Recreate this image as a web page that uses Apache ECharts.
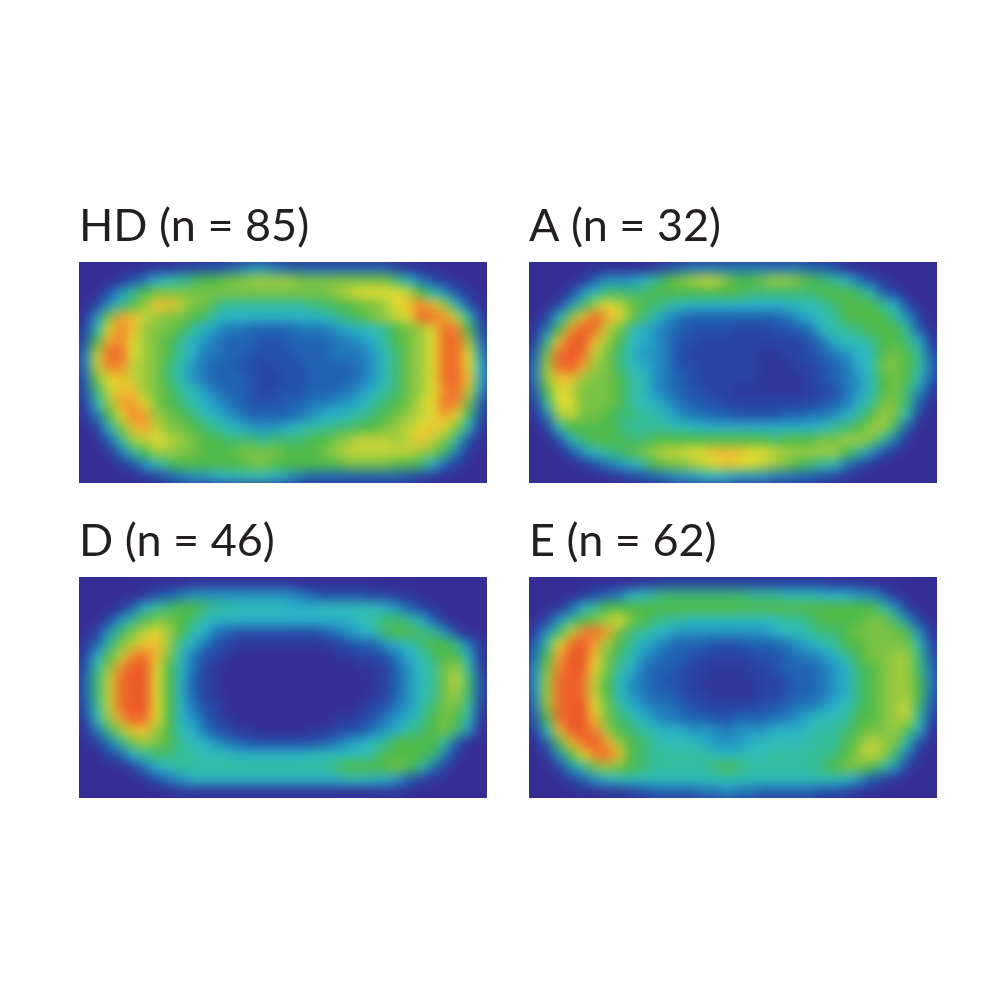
<!DOCTYPE html>
<html><head><meta charset="utf-8">
<style>
html,body{margin:0;padding:0;background:#fff}
#clip{position:absolute;left:0;top:0;width:1000px;height:1000px;
clip-path:path('M79 262H487V483H79Z M529 262H937V483H529Z M79 577H487V798H79Z M529 577H937V798H529Z')}
#heat{position:absolute;left:0;top:0;width:1000px;height:1000px;filter:blur(6px)}
#labels{position:absolute;left:0;top:0;width:1000px;height:1000px}
</style>
<script src="https://cdn.jsdelivr.net/npm/echarts@6/dist/echarts.min.js"></script>
</head><body>
<div id="clip"><div id="heat"></div></div>
<div id="labels"></div>
<script>
const panelTitles = ['HD (n = 85)','A (n = 32)','D (n = 46)','E (n = 62)'];
const palette = ['#352e95','#30379b','#2a44a3','#2451ac','#2163b3','#2179bb','#2495c2','#2bb2c8','#2fbbb8','#35bb9c','#3fba72','#4fba48','#78c344','#9ccb3f','#c2d338','#e2dc2f','#f0c030','#f3a030','#f2852d','#f06c2a','#ec5a28'];
const hdRows = [
[0,0,0,0,0,0,1,1,2,2,3,3,4,5,6,6,5,4,4,4,4,4,4,4,4,4,2,1,0,0,0,0,0,0],
[0,0,0,1,3,5,7,8,9,10,11,11,12,12,13,13,13,13,12,12,12,12,12,12,12,12,10,7,5,3,1,0,0,0],
[0,0,3,6,9,11,12,12,12,12,12,12,12,12,12,12,12,12,12,12,12,13,14,15,15,15,15,14,11,8,6,3,1,0],
[0,2,6,9,11,13,16,16,14,12,12,10,9,9,9,9,9,9,9,10,10,11,11,12,12,13,15,16,18,16,13,7,3,0],
[1,6,12,17,16,14,13,12,12,11,10,8,7,7,7,7,7,7,7,7,8,9,10,11,12,13,14,15,19,19,17,14,8,2],
[2,8,15,18,16,13,12,12,11,9,7,6,5,5,4,4,4,4,5,5,5,6,7,7,8,9,11,12,13,15,19,18,11,3],
[3,11,17,18,15,13,12,11,9,7,6,5,4,4,4,3,3,4,4,4,4,5,5,6,7,9,11,12,13,15,19,19,13,5],
[5,14,19,19,15,13,12,11,9,7,5,5,4,4,3,3,3,3,4,4,4,5,5,5,6,8,10,12,13,15,19,19,15,6],
[5,14,18,18,14,13,12,10,8,6,5,4,4,3,3,2,3,3,3,4,4,4,4,5,6,8,10,12,13,15,19,19,15,7],
[4,12,15,16,14,13,12,10,8,6,5,4,4,4,3,2,2,3,3,4,4,4,4,5,6,8,10,12,13,15,19,19,16,7],
[3,10,14,16,16,13,12,11,9,8,6,5,4,4,3,2,3,3,3,4,4,4,5,6,7,9,10,12,13,15,18,19,14,6],
[2,8,13,17,17,15,12,11,10,8,7,6,5,4,3,3,3,4,4,5,5,6,6,7,9,10,11,12,14,15,19,18,12,4],
[1,5,11,15,18,17,13,12,11,10,8,7,6,5,4,4,4,4,5,6,7,7,8,9,10,11,12,13,14,15,17,15,10,3],
[0,2,7,12,16,17,14,12,12,11,10,9,8,7,6,6,6,7,8,9,9,10,10,11,11,12,13,14,15,16,15,12,7,1],
[0,0,4,9,13,14,15,14,13,12,11,11,10,10,10,9,10,10,10,11,11,12,13,14,14,14,13,14,16,14,12,9,3,0],
[0,0,1,5,9,11,13,13,12,12,11,11,11,12,12,12,12,11,11,11,12,13,14,14,14,14,14,14,13,12,10,5,1,0],
[0,0,0,1,3,6,8,10,11,11,11,11,11,11,12,12,11,11,11,11,11,11,12,12,12,12,11,11,10,7,4,2,0,0],
[0,0,0,0,0,1,2,4,5,6,6,7,7,8,8,8,7,6,5,4,4,4,4,4,4,4,4,3,2,1,0,0,0,0]];
const aRows = [
[0,0,0,0,0,0,0,0,0,0,1,3,4,5,5,5,5,5,5,5,5,5,5,4,4,3,1,0,0,0,0,0,0,0],
[0,0,0,0,1,4,6,6,6,7,9,11,12,13,14,14,12,11,11,12,13,13,12,11,10,9,7,5,3,1,0,0,0,0],
[0,0,0,2,6,8,10,10,10,10,11,11,11,11,11,11,11,11,10,10,10,10,10,10,11,11,11,10,8,4,2,0,0,0],
[0,0,2,6,10,13,15,14,12,11,10,9,8,7,7,7,7,7,7,7,7,7,8,8,9,10,11,11,11,9,7,3,0,0],
[0,2,7,12,16,19,17,15,12,10,8,6,5,4,4,4,4,4,4,4,4,5,6,7,8,9,11,11,11,11,9,6,2,0],
[1,5,11,17,20,19,14,12,9,7,6,5,4,3,3,3,3,2,2,2,3,3,4,5,8,9,9,10,11,11,11,9,4,0],
[2,9,16,20,20,16,13,11,8,7,6,5,3,3,2,2,2,2,2,2,2,2,2,3,5,7,8,8,9,11,11,10,7,2],
[4,12,19,20,19,14,12,10,8,6,6,5,3,2,2,2,2,2,2,1,1,2,2,3,4,5,6,7,8,11,12,11,9,4],
[5,13,19,20,17,13,12,10,8,7,6,5,3,3,2,2,2,2,2,1,1,1,2,2,3,4,5,7,8,12,12,11,9,5],
[5,13,16,16,13,12,12,11,9,8,6,5,4,3,2,2,2,2,2,1,1,1,1,2,3,4,5,6,8,11,12,11,8,4],
[4,11,15,14,12,12,12,11,9,8,6,5,4,3,3,2,2,1,1,1,1,1,1,2,2,3,5,6,8,11,12,10,6,2],
[2,9,15,15,12,12,12,11,9,8,7,6,5,4,3,3,2,2,2,2,2,2,2,2,3,4,5,7,9,12,12,10,4,0],
[1,5,13,14,12,12,11,10,10,9,9,7,6,5,5,4,4,3,3,3,3,4,4,5,5,6,7,9,11,13,12,8,2,0],
[0,2,8,11,11,11,11,10,9,9,9,9,8,8,7,7,7,7,7,7,7,7,7,7,8,9,10,11,13,13,10,4,0,0],
[0,0,3,7,10,11,11,11,10,10,11,11,11,11,11,11,11,11,11,11,10,11,11,11,12,12,13,13,12,9,5,1,0,0],
[0,0,0,3,6,8,9,10,11,12,13,14,14,15,15,16,16,16,15,15,14,13,13,13,13,13,11,9,6,3,1,0,0,0],
[0,0,0,0,1,3,5,6,7,9,11,12,12,13,14,15,16,15,15,14,13,12,11,10,9,8,5,3,1,0,0,0,0,0],
[0,0,0,0,0,0,0,1,2,3,4,5,6,6,7,7,7,6,6,6,5,5,4,4,3,2,1,0,0,0,0,0,0,0]];
const dRows = [
[0,0,0,0,0,0,0,0,0,1,1,1,1,1,1,1,1,1,0,0,0,0,0,0,0,0,0,0,0,0,0,0,0,0],
[0,0,0,0,0,1,3,4,5,6,6,6,6,6,6,6,6,6,5,4,3,3,3,3,2,2,1,1,0,0,0,0,0,0],
[0,0,0,1,4,7,9,10,11,11,10,9,9,8,8,8,8,7,7,7,8,8,8,8,8,7,6,4,2,1,0,0,0,0],
[0,0,2,6,9,11,12,12,11,10,8,7,7,7,7,7,7,7,7,7,7,7,7,8,9,10,10,9,7,4,1,0,0,0],
[0,2,6,10,12,14,15,13,11,8,7,5,4,3,3,3,3,3,3,3,4,5,6,7,8,10,11,11,10,9,6,2,0,0],
[1,4,9,12,14,16,16,13,9,7,5,3,2,1,1,1,1,1,1,1,1,2,3,4,4,6,7,8,10,11,11,9,5,1],
[2,7,11,14,18,19,16,12,8,5,3,2,1,0,0,0,0,0,0,0,0,1,1,2,2,3,5,7,8,10,11,11,7,1],
[3,9,13,18,20,20,15,11,7,5,2,1,0,0,0,0,0,0,0,0,0,0,0,1,1,2,4,6,8,9,12,13,9,2],
[4,10,14,19,20,20,15,11,7,4,2,1,0,0,0,0,0,0,0,0,0,0,0,0,1,2,4,6,8,9,12,14,10,3],
[4,10,14,19,20,20,15,11,7,4,2,1,0,0,0,0,0,0,0,0,0,0,0,0,1,2,4,6,8,9,12,13,10,3],
[3,9,14,19,20,20,15,11,7,5,3,2,0,0,0,0,0,0,0,0,0,0,0,1,2,3,5,6,8,10,12,12,9,2],
[2,8,13,17,20,19,15,11,7,6,4,2,1,0,0,0,0,0,0,0,0,1,1,2,3,5,6,7,9,11,12,11,8,1],
[1,5,10,13,16,16,13,11,8,7,5,3,2,1,1,0,0,0,0,1,1,2,3,3,5,6,7,9,10,11,12,10,6,0],
[0,2,5,9,12,13,12,11,9,8,7,6,5,4,3,3,3,3,3,3,4,5,6,7,8,9,11,11,11,11,9,4,0,0],
[0,0,2,4,7,9,10,10,9,9,8,8,8,7,7,7,7,7,7,8,8,8,8,8,9,11,11,11,11,10,5,1,0,0],
[0,0,0,0,2,5,7,8,9,9,9,9,9,9,9,9,9,9,9,9,9,10,11,11,11,11,12,11,9,5,2,0,0,0],
[0,0,0,0,0,1,3,5,6,7,7,7,7,7,7,7,7,7,7,7,7,7,8,8,7,7,6,4,2,1,0,0,0,0],
[0,0,0,0,0,0,0,0,1,1,1,1,1,1,1,1,1,1,1,1,1,1,1,1,1,1,1,0,0,0,0,0,0,0]];
const eRows = [
[0,0,0,0,0,0,0,0,0,1,1,2,2,2,2,2,2,2,2,2,2,2,2,2,2,1,1,1,0,0,0,0,0,0],
[0,0,0,0,1,3,4,5,7,8,9,10,10,10,10,10,10,10,9,9,9,8,8,8,7,7,7,6,6,4,1,0,0,0],
[0,0,1,4,7,9,11,11,11,11,11,11,11,11,11,11,11,11,11,11,11,11,11,11,11,11,11,11,11,9,6,2,0,0],
[0,2,6,9,11,12,13,15,12,11,10,9,9,8,8,8,8,8,8,8,8,9,9,10,11,11,11,11,12,12,10,6,2,0],
[2,6,10,14,18,19,17,12,10,9,8,7,6,6,6,6,6,6,6,6,7,8,8,9,10,10,11,12,12,12,12,11,6,1],
[4,9,15,19,20,17,13,11,9,7,6,5,4,4,4,3,3,3,4,4,4,5,6,7,8,9,11,11,12,12,12,12,8,3],
[5,11,17,20,20,16,12,10,8,6,5,4,4,3,2,2,2,2,2,3,3,4,5,5,6,7,9,11,12,12,13,13,10,4],
[6,12,18,20,20,15,12,9,7,5,4,4,3,2,2,1,1,1,2,2,3,4,4,4,5,6,7,10,11,12,13,13,10,5],
[6,13,19,20,19,14,11,8,6,5,4,3,3,2,1,1,1,1,1,2,2,3,4,4,5,6,7,10,11,12,13,13,11,5],
[6,13,19,20,19,14,11,8,6,5,4,4,3,2,2,1,1,1,1,2,2,3,4,4,5,6,7,10,11,12,13,13,11,5],
[5,13,19,21,20,15,12,9,7,6,5,5,4,3,2,2,2,2,2,3,3,4,5,5,6,7,8,10,11,12,13,14,10,4],
[4,11,19,21,20,16,12,10,9,7,6,5,5,4,4,3,3,4,4,4,5,5,6,7,8,8,9,11,11,12,13,14,9,3],
[2,8,16,20,20,18,13,11,10,9,8,7,7,6,6,6,5,6,6,6,7,7,7,8,9,9,10,11,12,12,13,11,7,1],
[0,4,11,16,19,20,17,13,11,10,9,8,8,8,7,6,6,6,7,8,8,8,8,9,9,9,11,12,14,13,12,8,3,0],
[0,1,6,11,15,18,19,16,11,10,9,9,9,9,9,8,7,8,8,8,9,9,9,9,9,10,11,13,14,13,10,5,1,0],
[0,0,2,6,9,12,13,12,11,10,9,9,9,9,9,10,11,10,9,9,9,9,9,9,10,11,12,12,11,9,6,2,0,0],
[0,0,0,2,4,6,7,8,8,8,8,8,8,8,8,8,8,8,8,8,8,8,8,8,8,8,7,6,4,2,1,0,0,0],
[0,0,0,0,0,0,1,1,2,3,4,4,4,4,5,5,6,5,5,4,4,4,4,4,3,3,2,1,0,0,0,0,0,0]];

const panels = [hdRows,aRows,dRows,eRows];
const lefts = [79,529,79,529], tops = [262,262,577,577];
const titleTops = [204,204,519,519];
const cols = hdRows[0].map((_,i)=>i), rows = hdRows.map((_,i)=>i);

const heat = echarts.init(document.getElementById('heat'));
heat.setOption({
  animation:false, backgroundColor:'#352e95',
  grid: panels.map((_,i)=>({left:lefts[i],top:tops[i],width:408,height:221,show:false})),
  xAxis: panels.map((_,i)=>({type:'category',gridIndex:i,data:cols,show:false})),
  yAxis: panels.map((_,i)=>({type:'category',gridIndex:i,data:rows,show:false,inverse:true})),
  visualMap:{show:false,min:0,max:20,seriesIndex:[0,1,2,3],inRange:{color:palette}},
  series: panels.map((p,i)=>({
    type:'heatmap',xAxisIndex:i,yAxisIndex:i,name:panelTitles[i],progressive:0,
    data:p.flatMap((r,y)=>r.map((v,x)=>[x,y,v]))
  }))
});
const labels = echarts.init(document.getElementById('labels'));
labels.setOption({
  animation:false,
  title: panelTitles.map((t,i)=>({text:t,left:lefts[i],top:titleTops[i],padding:0,
    textStyle:{fontFamily:'Lato',fontWeight:'normal',fontSize:45,color:'#231f20'}}))
});
</script>
</body></html>
